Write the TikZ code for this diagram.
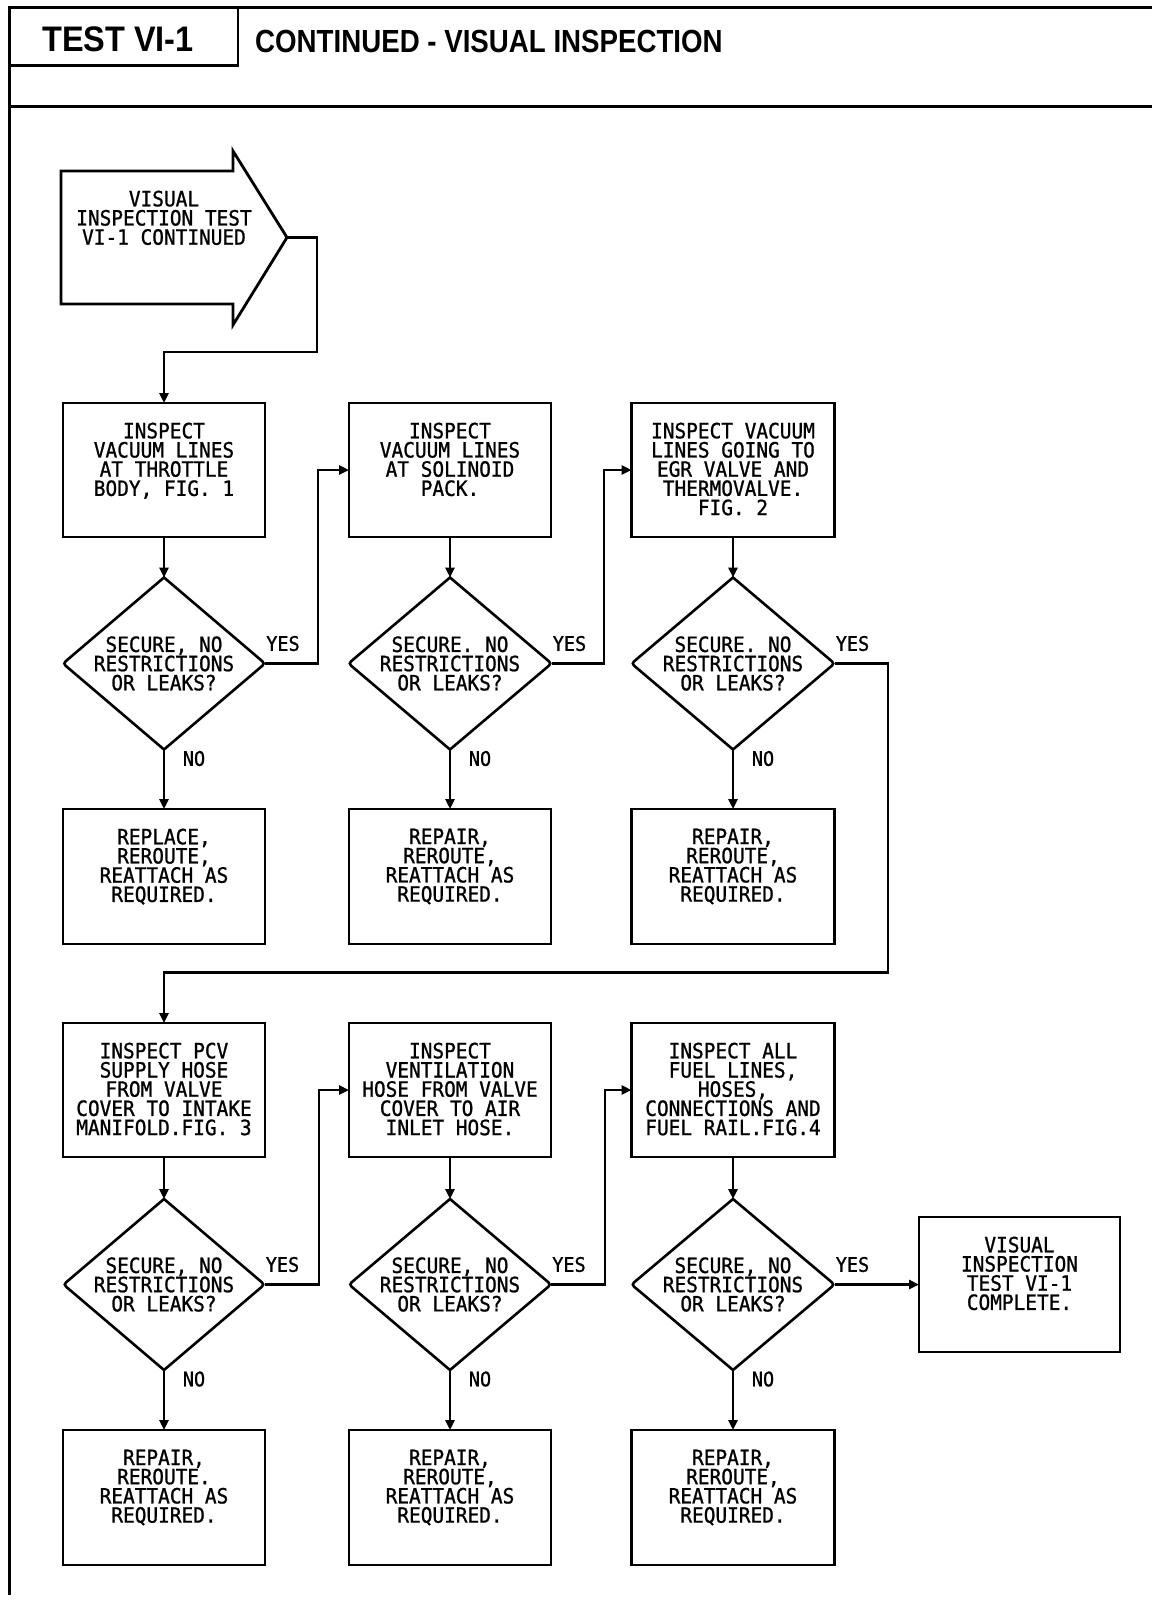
\documentclass[tikz,border=0pt]{standalone}
\usepackage{fontspec}
\usetikzlibrary{arrows.meta,calc,shapes.geometric}
\newfontfamily\plotfont{DejaVu Sans Mono}[FakeStretch=0.925,FakeBold=1]
\newfontfamily\hdrfontA{Liberation Sans}[FakeStretch=0.915]
\newfontfamily\hdrfontB{Liberation Sans}[FakeStretch=0.865]
\begin{document}
\begin{tikzpicture}[x=1pt,y=-1pt,
  hline/.style={line width=3.6pt},
  bline/.style={line width=2.8pt},
  boxn/.style={draw, line width=2.8pt, minimum height=134pt, inner sep=0pt, outer sep=0pt},
  dia/.style={shape=diamond, draw=none, inner sep=0pt, outer sep=0pt, minimum height=172pt},
  dline/.style={line width=2.6pt, line join=miter},
  txt/.style={font=\plotfont\fontsize{21}{19.2}\selectfont, align=center, inner sep=0pt},
  lbl/.style={font=\plotfont\fontsize{20}{19}\selectfont, inner sep=0pt},
  conn/.style={line width=2.6pt},
  arr/.style={line width=2.6pt, -{Triangle[length=10pt,width=9pt]}}]
\useasboundingbox (0,0) rectangle (1168,1600);
% header
\draw[hline] (8,7.5) -- (1152,7.5);
\draw[hline] (8,106.5) -- (1152,106.5);
\draw[bline] (9.5,6) -- (9.5,1595);
\draw[bline] (238,7.5) -- (238,65.5) -- (9.5,65.5);
\node[font=\hdrfontA\bfseries\fontsize{35.5}{40}\selectfont, inner sep=0pt] (ttl) at (118,39.2) {TEST VI-1};
\node[font=\hdrfontB\bfseries\fontsize{32}{38}\selectfont, inner sep=0pt, anchor=west] (sub) at (255,41.7) {CONTINUED - VISUAL INSPECTION};
% start arrow
\draw[bline, line join=miter] (61,171) -- (233,171) -- (233,151) -- (287,237.5) -- (233,325) -- (233,304) -- (61,304) -- cycle;
\coordinate (tip) at (287,237.5);
\node[txt, anchor=north] (st) at (164,190.5) {VISUAL\\INSPECTION TEST\\VI-1 CONTINUED};
% row A
\node[boxn, minimum width=202pt] (b1) at (164,470) {};
\node[boxn, minimum width=202pt] (b2) at (450,470) {};
\node[boxn, minimum width=203pt] (b3) at (733,470) {};
\node[dia, minimum width=202pt] (d1) at (164,663.5) {};
\node[dia, minimum width=203pt] (d2) at (450,663.5) {};
\node[dia, minimum width=203pt] (d3) at (733,663.5) {};
\node[boxn, minimum width=202pt, minimum height=135pt] (r1) at (164,876.5) {};
\node[boxn, minimum width=202pt, minimum height=135pt] (r2) at (450,876.5) {};
\node[boxn, minimum width=203pt, minimum height=135pt] (r3) at (733,876.5) {};
% row B
\node[boxn, minimum width=202pt] (b4) at (164,1090) {};
\node[boxn, minimum width=202pt] (b5) at (450,1090) {};
\node[boxn, minimum width=203pt] (b6) at (733,1090) {};
\node[dia, minimum width=201pt, minimum height=171pt] (d4) at (164,1284.5) {};
\node[dia, minimum width=202pt, minimum height=171pt] (d5) at (450,1284.5) {};
\node[dia, minimum width=203pt, minimum height=171pt] (d6) at (733,1284.5) {};
\node[boxn, minimum width=202pt, minimum height=135pt] (r4) at (164,1497.5) {};
\node[boxn, minimum width=202pt, minimum height=135pt] (r5) at (450,1497.5) {};
\node[boxn, minimum width=203pt, minimum height=135pt] (r6) at (733,1497.5) {};
\node[boxn, minimum width=201pt, minimum height=135pt] (b7) at (1019.5,1284.5) {};
% diamond outlines
\foreach \dd in {d1,d2,d3,d4,d5,d6}{
  \draw[dline] (\dd.north) -- ($(\dd.west)!7pt!(\dd.north)$) .. controls (\dd.west) .. ($(\dd.west)!7pt!(\dd.south)$)
    -- (\dd.south) -- ($(\dd.east)!7pt!(\dd.south)$) .. controls (\dd.east) .. ($(\dd.east)!7pt!(\dd.north)$) -- cycle;
}
% texts
\node[txt, anchor=north] (b1t) at ([yshift=-19.5pt]b1.north) {INSPECT\\VACUUM LINES\\AT THROTTLE\\BODY, FIG. 1};
\node[txt, anchor=north] (b2t) at ([yshift=-19.5pt]b2.north) {INSPECT\\VACUUM LINES\\AT SOLINOID\\PACK.};
\node[txt, anchor=north] (b3t) at ([yshift=-19.5pt]b3.north) {INSPECT VACUUM\\LINES GOING TO\\EGR VALVE AND\\THERMOVALVE.\\FIG. 2};
\node[txt] (d1t) at (d1) {SECURE, NO\\RESTRICTIONS\\OR LEAKS?};
\node[txt] (d2t) at (d2) {SECURE. NO\\RESTRICTIONS\\OR LEAKS?};
\node[txt] (d3t) at (d3) {SECURE. NO\\RESTRICTIONS\\OR LEAKS?};
\node[txt, anchor=north] (r1t) at ([yshift=-19.5pt]r1.north) {REPLACE,\\REROUTE,\\REATTACH AS\\REQUIRED.};
\node[txt, anchor=north] (r2t) at ([yshift=-19.5pt]r2.north) {REPAIR,\\REROUTE,\\REATTACH AS\\REQUIRED.};
\node[txt, anchor=north] (r3t) at ([yshift=-19.5pt]r3.north) {REPAIR,\\REROUTE,\\REATTACH AS\\REQUIRED.};
\node[txt, anchor=north] (b4t) at ([yshift=-19.5pt]b4.north) {INSPECT PCV\\SUPPLY HOSE\\FROM VALVE\\COVER TO INTAKE\\MANIFOLD.FIG. 3};
\node[txt, anchor=north] (b5t) at ([yshift=-19.5pt]b5.north) {INSPECT\\VENTILATION\\HOSE FROM VALVE\\COVER TO AIR\\INLET HOSE.};
\node[txt, anchor=north] (b6t) at ([yshift=-19.5pt]b6.north) {INSPECT ALL\\FUEL LINES,\\HOSES,\\CONNECTIONS AND\\FUEL RAIL.FIG.4};
\node[txt] (d4t) at (d4) {SECURE, NO\\RESTRICTIONS\\OR LEAKS?};
\node[txt] (d5t) at (d5) {SECURE, NO\\RESTRICTIONS\\OR LEAKS?};
\node[txt] (d6t) at (d6) {SECURE, NO\\RESTRICTIONS\\OR LEAKS?};
\node[txt, anchor=north] (r4t) at ([yshift=-19.5pt]r4.north) {REPAIR,\\REROUTE.\\REATTACH AS\\REQUIRED.};
\node[txt, anchor=north] (r5t) at ([yshift=-19.5pt]r5.north) {REPAIR,\\REROUTE,\\REATTACH AS\\REQUIRED.};
\node[txt, anchor=north] (r6t) at ([yshift=-19.5pt]r6.north) {REPAIR,\\REROUTE,\\REATTACH AS\\REQUIRED.};
\node[txt, anchor=north] (b7t) at ([yshift=-19.5pt]b7.north) {VISUAL\\INSPECTION\\TEST VI-1\\COMPLETE.};
% YES / NO labels
\foreach \dd/\n in {d1/1,d2/2,d3/3,d4/4,d5/5,d6/6}{
  \node[lbl] (yes\n) at ([xshift=18pt,yshift=20pt]\dd.east) {YES};
  \node[lbl] (no\n) at ([xshift=30pt,yshift=-9pt]\dd.south) {NO};
}
% junction coordinates
\coordinate (c0) at (317,352);
\coordinate (j1) at (318,560);
\coordinate (j2) at (604,560);
\coordinate (j3) at (888,972.5);
\coordinate (j4) at (319,1180);
\coordinate (j5) at (605,1180);
% connectors
\draw[arr] (tip) -| (c0) -| (b1.north);
\foreach \a/\b/\c in {b1/d1/r1,b2/d2/r2,b3/d3/r3,b4/d4/r4,b5/d5/r5,b6/d6/r6}{
  \draw[arr] (\a.south) -- (\b.north);
  \draw[arr] (\b.south) -- (\c.north);
}
\draw[arr] (d1.east) -| (j1) |- (b2.west);
\draw[arr] (d2.east) -| (j2) |- (b3.west);
\draw[arr] (d3.east) -| (j3) -| (b4.north);
\draw[arr] (d4.east) -| (j4) |- (b5.west);
\draw[arr] (d5.east) -| (j5) |- (b6.west);
\draw[arr] (d6.east) -- (b7.west);
\end{tikzpicture}
\end{document}
